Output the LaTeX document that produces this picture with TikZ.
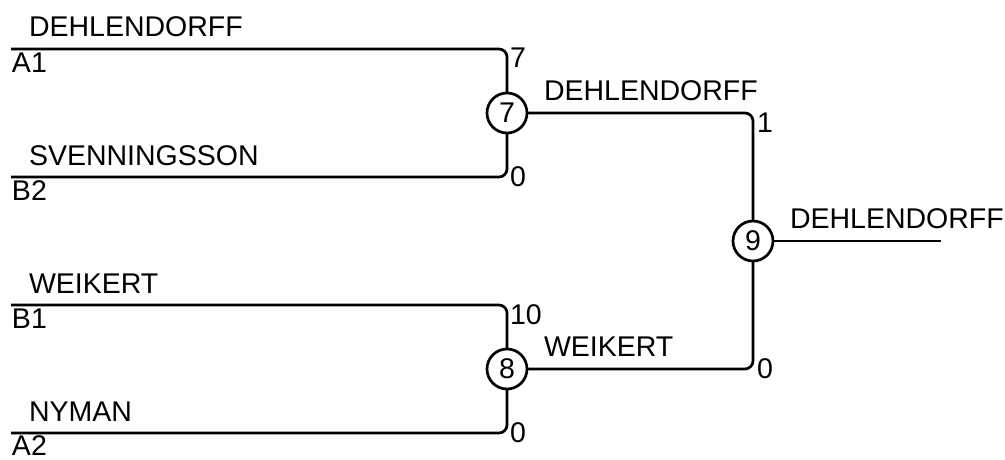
\documentclass[tikz,border=0pt]{standalone}
\usepackage{fontspec}
\setmainfont{Liberation Sans}
\begin{document}
\begin{tikzpicture}[x=1pt,y=-1pt,
  every node/.style={inner sep=0pt,outer sep=0pt,font=\fontsize{28.5}{32}\selectfont},
  txt/.style={anchor=base west},
  game/.style={circle,draw,line width=2.7pt,minimum size=40pt,inner sep=0pt},
  wire/.style={line width=2.7pt,rounded corners=8pt}]
\useasboundingbox (0,0) rectangle (1005,460);
% circles
\node[game] (c7) at (507,113) {7};
\node[game] (c8) at (507,369) {8};
\node[game] (c9) at (753,241) {9};
% line start points
\coordinate (a1) at (11,49);
\coordinate (b2) at (11,177);
\coordinate (b1) at (11,305);
\coordinate (a2) at (11,433);
\coordinate (fin) at (941,241);
% connectors
\draw[wire] (a1) -| (c7);
\draw[wire] (b2) -| (c7);
\draw[wire] (b1) -| (c8);
\draw[wire] (a2) -| (c8);
\draw[wire] (c7) -| (c9);
\draw[wire] (c8) -| (c9);
\draw[wire] (c9) -- (fin);
% names
\node[txt] (n1) at (29,37) {DEHLENDORFF};
\node[txt] (s1) at (12,73) {A1};
\node[txt] (n2) at (29,165) {SVENNINGSSON};
\node[txt] (s2) at (12,200) {B2};
\node[txt] (n3) at (29,293) {WEIKERT};
\node[txt] (s3) at (12,328) {B1};
\node[txt] (n4) at (29,421) {NYMAN};
\node[txt] (s4) at (12,455) {A2};
\node[txt] (w7) at (544,100) {DEHLENDORFF};
\node[txt] (w8) at (544,356) {WEIKERT};
\node[txt] (w9) at (790,228) {DEHLENDORFF};
% scores
\node[txt] (p1) at (510,67) {7};
\node[txt] (p2) at (510,186) {0};
\node[txt] (p3) at (510,324) {10};
\node[txt] (p4) at (510,442) {0};
\node[txt] (p5) at (757,132) {1};
\node[txt] (p6) at (757,378) {0};
\end{tikzpicture}
\end{document}
